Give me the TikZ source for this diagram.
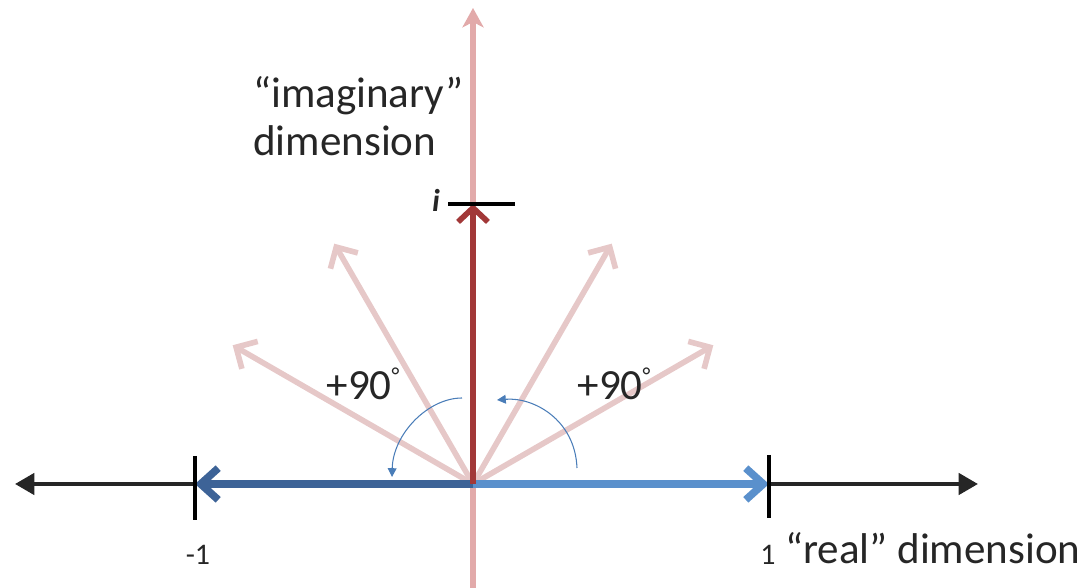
\documentclass[tikz,border=0pt]{standalone}
\usepackage{fontspec}
\setmainfont{Carlito}
\usetikzlibrary{arrows.meta, positioning}
\definecolor{AxisPink}{HTML}{E2AAAA}
\definecolor{FaintPink}{HTML}{E6C8C8}
\definecolor{RotRed}{HTML}{A23838}
\definecolor{RealBlueDark}{HTML}{3D6397}
\definecolor{RealBlueLight}{HTML}{5A90CC}
\definecolor{ArcBlue}{HTML}{4A7DB8}
\definecolor{TextGray}{HTML}{262626}
\newcommand{\degsign}{\raisebox{0.38em}{\fontsize{13}{13}\selectfont °}}

\begin{document}
\begin{tikzpicture}[
    realaxis/.style={draw=black!85, line width=2.4pt, {Triangle[length=11pt, width=12pt]}-{Triangle[length=11pt, width=12pt]}},
    imagaxis/.style={draw=AxisPink, line width=3.4pt, -{Stealth[length=11pt, width=12pt, inset=3pt]}},
    faintvec/.style={draw=FaintPink, line width=3.2pt, -{Straight Barb[length=9pt, width=18pt, line width=3.2pt]}},
    redvec/.style={draw=RotRed, line width=3.2pt, -{Straight Barb[length=8pt, width=17pt, line width=3.2pt]}},
    bluevec/.style={line width=4.3pt, -{Straight Barb[length=10pt, width=18pt, line width=4.3pt]}},
    tickmark/.style={draw=black, line width=2.1pt},
    rotarc/.style={draw=ArcBlue, line width=0.6pt, -{Triangle[length=5pt, width=5pt]}},
    lbl/.style={font=\fontsize{24.5}{27.3}\selectfont, text=TextGray, inner sep=0pt},
    ticklbl/.style={font=\fontsize{17}{19}\selectfont, text=TextGray, inner sep=0pt}
]
\useasboundingbox (-9.46,-2.08) rectangle (12.2,9.68);
\coordinate (O) at (0,0);
\coordinate (imbottom) at (0,-2.2);
\coordinate (imtop) at (0,9.52);
\coordinate (releft) at (-9.16,0);
\coordinate (reright) at (10.1,0);
\coordinate (minusone) at (-5.56,0);
\coordinate (one) at (5.92,0);
\coordinate (unit) at (0,5.6);
% axes
\draw[imagaxis] (imbottom) -- (imtop);
\draw[realaxis] (releft) -- (reright);
% intermediate rotations
\foreach \ang in {30,60,120,150} {
    \coordinate (f\ang) at (\ang:5.55);
    \draw[faintvec] (O) -- (f\ang);
}
\draw[bluevec, draw=RealBlueDark] (O) -- (minusone);
\draw[bluevec, draw=RealBlueLight] (O) -- (one);
\draw[redvec] (O) -- (unit);
% ticks
\draw[tickmark] ([yshift=0.56cm]minusone) -- ([yshift=-0.72cm]minusone);
\draw[tickmark] ([yshift=0.58cm]one) -- ([yshift=-0.68cm]one);
\draw[tickmark] ([xshift=-0.5cm]unit) -- ([xshift=0.84cm]unit);
% rotation arcs
\coordinate (arcRa) at (2.08,0.32);
\coordinate (arcRb) at (0.48,1.68);
\coordinate (arcLa) at (-0.22,1.72);
\coordinate (arcLb) at (-1.62,0.14);
\draw[rotarc] (arcRa) .. controls (2.04,1.3) and (1.2,1.74) .. (arcRb);
\draw[rotarc] (arcLa) .. controls (-0.9,1.72) and (-1.6,1.0) .. (arcLb);
% labels
\node[lbl, anchor=north west, align=left] (imaglbl) at (-4.4,8.16) {“imaginary”\\dimension};
\node[lbl, anchor=base west] (reallbl) at (6.24,-1.6) {“real” dimension};
\node[lbl, anchor=base] (degL) at (-2.2,1.68) {+90\degsign};
\node[lbl, anchor=base] (degR) at (2.82,1.68) {+90\degsign};
\node[ticklbl, anchor=base] (lblone) at (5.9,-1.62) {1};
\node[ticklbl, anchor=base] (lblminus) at (-5.5,-1.62) {-1};
\node[lbl, font=\fontsize{18}{20}\selectfont\bfseries\itshape, anchor=base] (lbli) at (-0.74,5.44) {i};
\end{tikzpicture}
\end{document}
